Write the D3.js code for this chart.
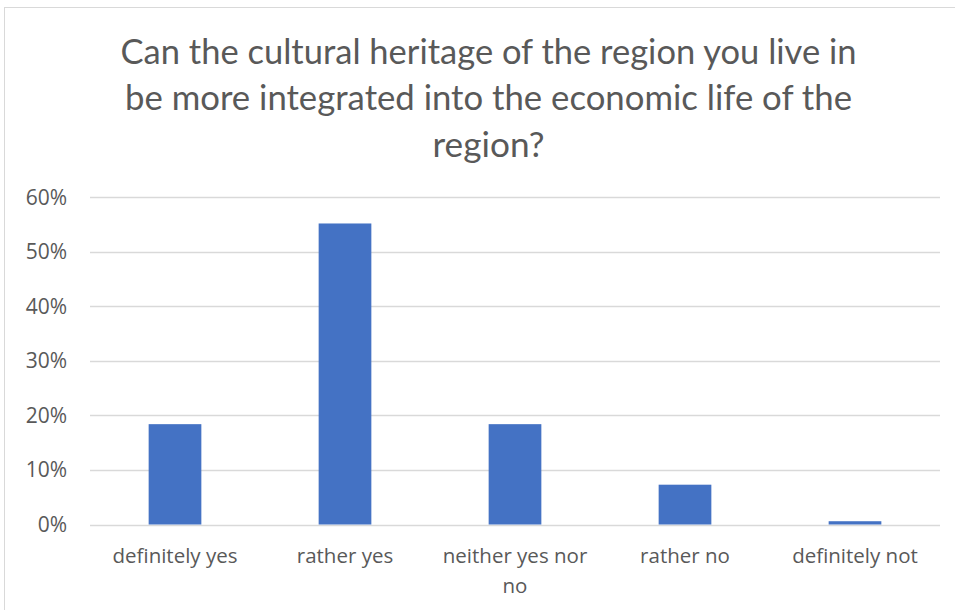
<!DOCTYPE html>
<html><head><meta charset="utf-8">
<script src="https://cdn.jsdelivr.net/npm/d3@7"></script>
<style>body{margin:0;background:#fff}svg{display:block}</style>
</head><body>
<svg id="c" width="955" height="610"></svg>
<script>
const categories = ["definitely yes","rather yes","neither yes nor no","rather no","definitely not"];
const values = [0.184,0.552,0.184,0.073,0.006];
const yTicks = [0,0.1,0.2,0.3,0.4,0.5,0.6];
const titleLines = ["Can the cultural heritage of the region you live in","be more integrated into the economic life of the","region?"];

const svg = d3.select("#c");
const textColor = "#595959";
const font = "'Open Sans', 'Noto Sans', sans-serif";

svg.append("rect").attr("x",4.5).attr("y",7.5).attr("width",1000).attr("height",700)
  .attr("fill","#fff").attr("stroke","#d9d9d9").attr("stroke-width",1);

const x = d3.scaleBand().domain(categories).range([90,940]).paddingInner(0.69).paddingOuter(0.345);
const y = d3.scaleLinear().domain([0,0.6]).range([524.5,197.3]);

// title
const titleWidths = [736, 727, 112];
svg.append("g").selectAll("text").data(titleLines).join("text")
  .attr("x",488.5).attr("y",(d,i)=>63.5+i*46.7)
  .attr("text-anchor","middle")
  .attr("font-family","Lato, 'Open Sans', sans-serif").attr("font-size",34)
  .attr("fill",textColor)
  .attr("textLength",(d,i)=>titleWidths[i])
  .attr("lengthAdjust","spacingAndGlyphs")
  .text(d=>d);

// gridlines
svg.append("g").selectAll("line").data(yTicks).join("line")
  .attr("x1",90).attr("x2",940)
  .attr("y1",d=>Math.round(y(d))+0.5).attr("y2",d=>Math.round(y(d))+0.5)
  .attr("stroke","#d9d9d9").attr("stroke-width",1.3);

// y axis labels
const yAxis = d3.axisLeft(y).tickValues(yTicks).tickFormat(d3.format(".0%")).tickSize(0).tickPadding(0);
const gy = svg.append("g").attr("transform","translate(67,0)").call(yAxis);
gy.select(".domain").remove();
gy.selectAll("text").attr("font-family",font).attr("font-size",21).attr("fill",textColor);

// bars
svg.append("g").selectAll("rect").data(values).join("rect")
  .attr("x",(d,i)=>x(categories[i]))
  .attr("width",x.bandwidth())
  .attr("y",d=>y(d))
  .attr("height",d=>y(0)-y(d))
  .attr("fill","#4472c4");

// x labels
const xAxis = d3.axisBottom(x).tickSize(0).tickPadding(0);
const gx = svg.append("g").call(xAxis);
gx.select(".domain").remove();
gx.selectAll("text").each(function(d){
  const t = d3.select(this);
  t.attr("font-family",font).attr("font-size",20.5).attr("fill",textColor).attr("dy",null).attr("y",null);
  const words = d.split(" ");
  t.text(null);
  let line = [], n = 0;
  let ts = t.append("tspan").attr("x",0).attr("y",563);
  words.forEach(w=>{
    line.push(w);
    ts.text(line.join(" "));
    if (ts.node().getComputedTextLength() > 160 && line.length>1){
      line.pop(); ts.text(line.join(" "));
      line=[w]; n++;
      ts = t.append("tspan").attr("x",0).attr("y",563+29.5*n).text(w);
    }
  });
});
</script>
</body></html>
